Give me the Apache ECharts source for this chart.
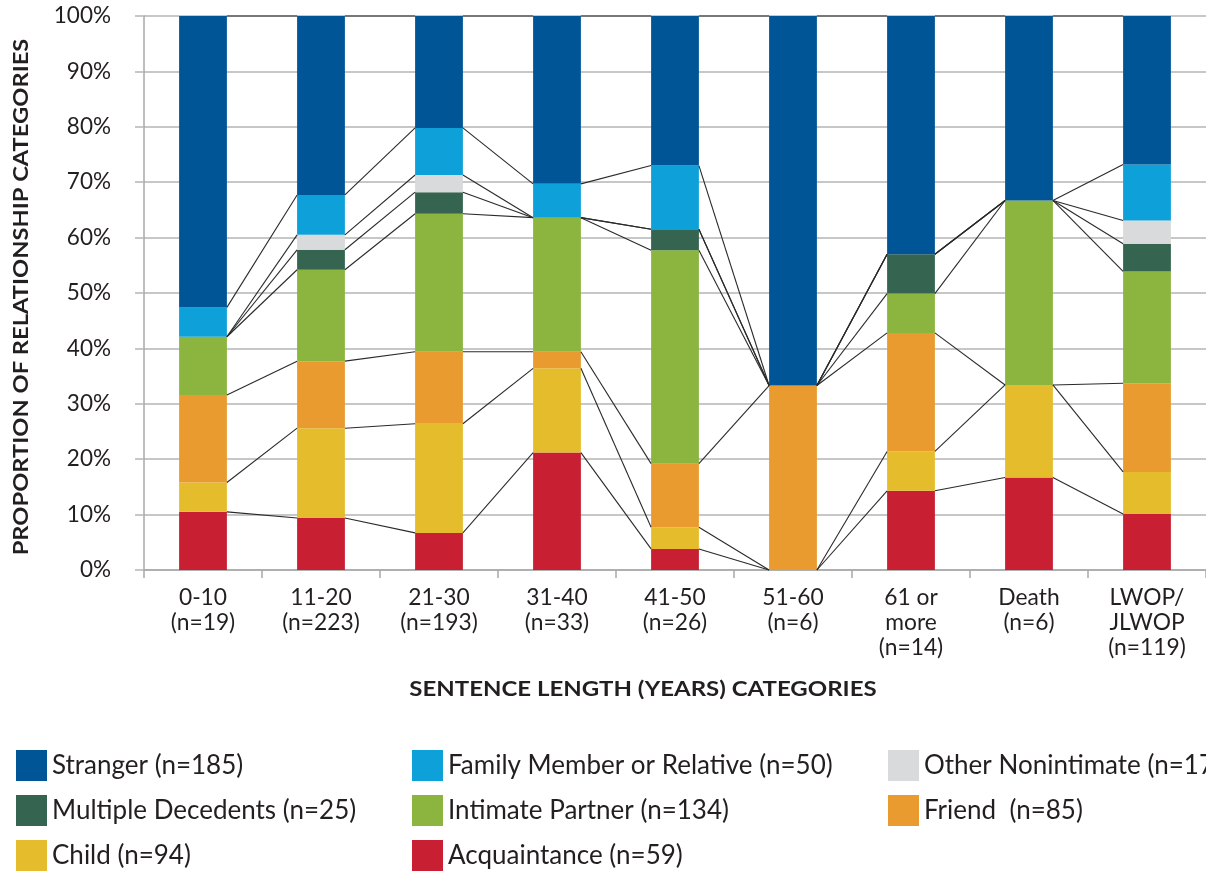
<!DOCTYPE html>
<html>
<head>
<meta charset="utf-8">
<script src="https://cdn.jsdelivr.net/npm/echarts@6/dist/echarts.min.js"></script>
<style>html,body{margin:0;padding:0;background:#fff;}#c{width:1206px;height:874px;}</style>
</head>
<body>
<div id="c"></div>
<script>
const categories = ['0-10\n(n=19)', '11-20\n(n=223)', '21-30\n(n=193)', '31-40\n(n=33)', '41-50\n(n=26)', '51-60\n(n=6)', '61 or\nmore\n(n=14)', 'Death\n(n=6)', 'LWOP/\nJLWOP\n(n=119)'];
const acquaintance = [10.5, 9.4, 6.7, 21.2, 3.8, 0, 14.3, 16.7, 10.1];
const child        = [5.3, 16.2, 19.7, 15.2, 3.9, 0, 7.1, 16.7, 7.6];
const friend       = [15.8, 12.1, 13.0, 3.0, 11.5, 33.3, 21.4, 0, 16.0];
const intimate     = [10.5, 16.5, 24.9, 24.2, 38.5, 0, 7.1, 33.3, 20.2];
const multiple     = [0, 3.6, 3.9, 0, 3.8, 0, 7.1, 0, 5.0];
const other        = [0, 2.7, 3.1, 0, 0, 0, 0, 0, 4.2];
const family       = [5.3, 7.2, 8.5, 6.1, 11.5, 0, 0, 0, 10.1];
const stranger     = [52.6, 32.3, 20.2, 30.3, 27.0, 66.7, 43.0, 33.3, 26.8];
const yTicks = [0, 10, 20, 30, 40, 50, 60, 70, 80, 90, 100];

const seriesDefs = [
  {name: 'Acquaintance (n=59)', data: acquaintance, color: '#c82032'},
  {name: 'Child (n=94)', data: child, color: '#e5bd2c'},
  {name: 'Friend  (n=85)', data: friend, color: '#e99b30'},
  {name: 'Intimate Partner (n=134)', data: intimate, color: '#8bb53f'},
  {name: 'Multiple Decedents (n=25)', data: multiple, color: '#356550'},
  {name: 'Other Nonintimate (n=17)', data: other, color: '#d9dadb'},
  {name: 'Family Member or Relative (n=50)', data: family, color: '#0ea0d8'},
  {name: 'Stranger (n=185)', data: stranger, color: '#005596'}
];

const FONT = 'Lato, "Open Sans", sans-serif';
const TXT = '#231f20';
const BAR_RATIO = 0.405;

// cumulative tops per series per category (stacking)
const cum = seriesDefs.map(() => []);
for (let i = 0; i < categories.length; i++) {
  let s = 0;
  seriesDefs.forEach((d, k) => { s += d.data[i]; cum[k][i] = s; });
}

const series = seriesDefs.map(d => ({
  name: d.name,
  type: 'bar',
  stack: 'all',
  barWidth: (BAR_RATIO * 100) + '%',
  data: d.data,
  itemStyle: {color: d.color},
  emphasis: {disabled: true},
  z: 2
}));

series.push({
  name: 'connectors',
  type: 'custom',
  coordinateSystem: 'cartesian2d',
  data: categories.slice(0, -1).map((c, i) => [i, 0]),
  encode: {x: 0, y: 1},
  z: 3,
  silent: true,
  renderItem: function (params, api) {
    const i = api.value(0);
    const band = api.size([1, 0])[0];
    const half = band * BAR_RATIO / 2;
    const children = [];
    for (let k = 0; k < seriesDefs.length; k++) {
      const p1 = api.coord([i, cum[k][i]]);
      const p2 = api.coord([i + 1, cum[k][i + 1]]);
      children.push({
        type: 'line',
        shape: {x1: p1[0] + half, y1: p1[1], x2: p2[0] - half, y2: p2[1]},
        style: {stroke: '#2a2a2a', lineWidth: 1.1}
      });
    }
    return {type: 'group', children: children};
  }
});

const legendLayout = [
  ['Stranger (n=185)', 16, 750], ['Family Member or Relative (n=50)', 412, 750], ['Other Nonintimate (n=17)', 888, 750],
  ['Multiple Decedents (n=25)', 16, 795], ['Intimate Partner (n=134)', 412, 795], ['Friend  (n=85)', 888, 795],
  ['Child (n=94)', 16, 840], ['Acquaintance (n=59)', 412, 840]
];

const chart = echarts.init(document.getElementById('c'), null, {renderer: 'canvas'});
chart.setOption({
  animation: false,
  backgroundColor: '#fff',
  grid: {left: 144, top: 16, width: 1068, height: 554, containLabel: false},
  xAxis: {
    type: 'category',
    data: categories,
    axisLine: {show: true, lineStyle: {color: '#a8a8a8', width: 1.5}},
    axisTick: {show: true, alignWithLabel: false, length: 8, lineStyle: {color: '#a8a8a8', width: 1.5}},
    axisLabel: {fontFamily: FONT, fontSize: 22.8, color: TXT, lineHeight: 25, margin: 15, interval: 0}
  },
  yAxis: {
    type: 'value',
    min: 0, max: 100, interval: 10,
    axisLine: {show: true, lineStyle: {color: '#a8a8a8', width: 1.5}},
    axisTick: {show: true, length: 9, lineStyle: {color: '#b5b5b5', width: 1.5}},
    splitLine: {show: true, lineStyle: {color: '#b5b5b5', width: 1.5}},
    axisLabel: {fontFamily: FONT, fontSize: 22.5, color: TXT, margin: 33,
      formatter: v => (yTicks.indexOf(v) >= 0 ? v + '%' : '')}
  },
  legend: legendLayout.map(([name, left, top]) => ({
    data: [name], left: left, top: top, icon: 'rect', itemWidth: 31, itemHeight: 31,
    padding: 0, selectedMode: false,
    textStyle: {fontFamily: FONT, fontSize: 26, color: TXT}
  })),
  graphic: [
    {type: 'text', x: 643, y: 690, scaleX: 1.2, style: {text: 'SENTENCE LENGTH (YEARS) CATEGORIES', font: 'bold 20px Lato, sans-serif', fill: TXT, textAlign: 'center', textVerticalAlign: 'middle'}},
    {type: 'text', x: 22, y: 297, rotation: Math.PI / 2, scaleX: 1.185, style: {text: 'PROPORTION OF RELATIONSHIP CATEGORIES', font: 'bold 20px Lato, sans-serif', fill: TXT, textAlign: 'center', textVerticalAlign: 'middle'}}
  ],
  series: series
});
</script>
</body>
</html>
